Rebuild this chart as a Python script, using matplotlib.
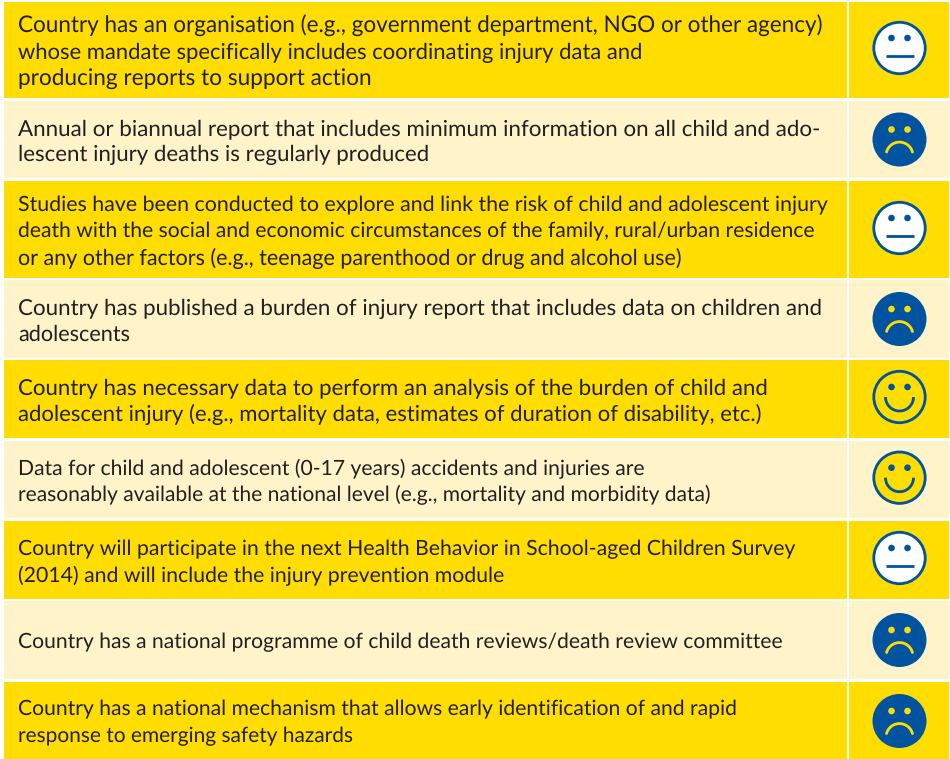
"""Country scorecard table with smiley ratings (matplotlib, Agg backend)."""

import matplotlib

matplotlib.use("Agg")
import matplotlib.pyplot as plt
import numpy as np
from matplotlib.patches import Circle, Rectangle

plt.rcParams["font.family"] = ["Lato", "DejaVu Sans"]
plt.rcParams["text.hinting"] = "no_hinting"  # keeps the width fit below linear

ROW_TEXT = [
    ["Country has an organisation (e.g., government department, NGO or other agency)",
     "whose mandate specifically includes coordinating injury data and",
     "producing reports to support action"],
    ["Annual or biannual report that includes minimum information on all child and ado-",
     "lescent injury deaths is regularly produced"],
    ["Studies have been conducted to explore and link the risk of child and adolescent injury",
     "death with the social and economic circumstances of the family, rural/urban residence",
     "or any other factors (e.g., teenage parenthood or drug and alcohol use)"],
    ["Country has published a burden of injury report that includes data on children and",
     "adolescents"],
    ["Country has necessary data to perform an analysis of the burden of child and",
     "adolescent injury (e.g., mortality data, estimates of duration of disability, etc.)"],
    ["Data for child and adolescent (0-17 years) accidents and injuries are",
     "reasonably available at the national level (e.g., mortality and morbidity data)"],
    ["Country will participate in the next Health Behavior in School-aged Children Survey",
     "(2014) and will include the injury prevention module"],
    ["Country has a national programme of child death reviews/death review committee"],
    ["Country has a national mechanism that allows early identification of and rapid",
     "response to emerging safety hazards"],
]
ROW_FACE = ["neutral", "sad", "neutral", "sad", "happy", "happy", "neutral", "sad", "sad"]

# layout, in image pixels
ROW_TOP = [2, 100.5, 181, 280, 360, 440.5, 521, 601, 682]
ROW_BOTTOM = [98, 178, 277.5, 358, 437.7, 517.7, 598.5, 679, 759]
FACE_Y = [48, 139.5, 228, 319, 397, 477.7, 558, 640, 721]
# right end of each text line, the source tracks its lines unevenly
LINE_END = [[822, 642, 371], [820, 428], [829, 815, 682], [822, 130], [769, 759],
            [645, 709], [795, 503], [781], [736, 353]]

YELLOW = "#FFDD00"
CREAM = "#FFF3C9"
BLUE = "#00539F"
INK = "#231F20"
LINE_PX = 26.6
TEXT_X = 18
FACE_X = 899.5
PX = 72 / 100  # one pixel in points at dpi=100


def draw_face(ax, cx, cy, kind):
    r = 27
    if kind == "sad":
        ax.add_patch(Circle((cx, cy), r, fc=BLUE, ec="none"))
        feature = YELLOW
    else:
        fill = "white" if kind == "neutral" else YELLOW
        ax.add_patch(Circle((cx, cy), r - 1.3, fc=fill, ec=BLUE, lw=2.8 * PX))
        feature = BLUE
    for dx in (-8, 8):
        ax.add_patch(Circle((cx + dx, cy - 10), 3.3, fc=feature, ec="none"))
    if kind == "neutral":
        ax.plot([cx - 14, cx + 14], [cy + 8, cy + 8], color=feature, lw=2.8 * PX,
                solid_capstyle="butt")
    elif kind == "happy":
        t = np.linspace(0, np.pi, 60)
        ax.plot(cx + 14 * np.cos(t), cy + 14 * np.sin(t), color=feature, lw=2.8 * PX,
                solid_capstyle="butt")
    else:
        t = np.linspace(np.radians(-165), np.radians(-15), 60)
        ax.plot(cx + 13.4 * np.cos(t), cy + 16 + 13.4 * np.sin(t), color=feature,
                lw=2.8 * PX, solid_capstyle="round")


fig = plt.figure(figsize=(9.5, 7.59), dpi=100)
ax = fig.add_axes([0, 0, 1, 1])
ax.set_xlim(0, 950)
ax.set_ylim(759, 0)
ax.axis("off")
renderer = fig.canvas.get_renderer()

for i, lines in enumerate(ROW_TEXT):
    top, bottom = ROW_TOP[i], ROW_BOTTOM[i]
    color = YELLOW if i % 2 == 0 else CREAM
    ax.add_patch(Rectangle((4, top), 842.7, bottom - top, fc=color, ec="none"))
    ax.add_patch(Rectangle((849.3, top), 99.7, bottom - top, fc=color, ec="none"))
    mid = (top + bottom) / 2 + 0.8
    for j, line in enumerate(lines):
        y = mid + (j - (len(lines) - 1) / 2) * LINE_PX
        txt = ax.text(TEXT_X, y, line, fontsize=15.4, color=INK, ha="left",
                      va="center_baseline")
        # fit the line to its width in the source
        width = txt.get_window_extent(renderer).width
        txt.set_fontsize(15.4 * (LINE_END[i][j] - TEXT_X) / width)
    draw_face(ax, FACE_X, FACE_Y[i], ROW_FACE[i])

fig.savefig("out.png", dpi=100)
plt.close(fig)
